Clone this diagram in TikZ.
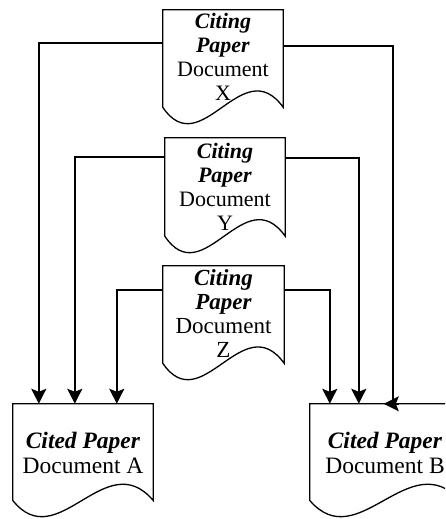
\documentclass[tikz,border=0pt]{standalone}
\usepackage{fontspec}
\setmainfont{Liberation Serif}
\usetikzlibrary{calc,arrows.meta}

% outline of a "document" box: straight top and sides, wavy bottom
\newcommand\docoutline[1]{%
  \draw[docline] let \p1=(#1.north west), \p2=(#1.south east) in
    (\p1) -- (\x2,\y1) -- (\x2,{\y1+0.86*(\y2-\y1)})
    .. controls ({\x1+0.66*(\x2-\x1)},{\y1+0.36*(\y2-\y1)})
            and ({\x1+0.32*(\x2-\x1)},{\y1+1.36*(\y2-\y1)})
    .. (\x1,{\y1+0.86*(\y2-\y1)}) -- cycle;}

\begin{document}
\begin{tikzpicture}[x=1pt,y=-1pt,
  docbox/.style={rectangle,draw=none,inner sep=0pt},
  docline/.style={line width=1.3pt,line join=miter},
  doctext/.style={anchor=north,align=center,inner sep=0pt},
  citing/.style={doctext,font=\fontsize{22}{24}\selectfont},
  cited/.style={doctext,font=\fontsize{23.5}{25}\selectfont},
  wire/.style={line width=1.5pt},
  conn/.style={wire,-{Stealth[length=15pt,width=15pt,inset=3pt]}}]

\fill[white] (0,0) rectangle (445,519);
\clip (0,0) rectangle (445,519);

% citing papers
\node[docbox,minimum width=120pt,minimum height=113pt] (X) at (223,66.5) {};
\node[docbox,minimum width=120pt,minimum height=114pt] (Y) at (225,195) {};
\node[docbox,minimum width=121pt,minimum height=113pt] (Z) at (223.5,322.5) {};
% cited papers
\node[docbox,minimum width=140pt,minimum height=112pt] (A) at (83,460) {};
\node[docbox,minimum width=150pt,minimum height=112pt] (B) at (385,460) {};

\docoutline{X}
\docoutline{Y}
\docoutline{Z}
\docoutline{A}
\docoutline{B}

\node[citing] (Xt) at ([yshift=-3pt]X.north) {\textbf{\textit{Citing}}\\\textbf{\textit{Paper}}\\Document\\X};
\node[citing] (Yt) at ([yshift=-5pt]Y.north) {\textbf{\textit{Citing}}\\\textbf{\textit{Paper}}\\Document\\Y};
\node[citing,font=\fontsize{23}{24}\selectfont] (Zt) at ([yshift=-3.5pt]Z.north) {\textbf{\textit{Citing}}\\\textbf{\textit{Paper}}\\Document\\Z};
\node[cited] (At) at ([yshift=-28pt]A.north) {\textbf{\textit{Cited Paper}}\\Document A};
\node[cited] (Bt) at ([yshift=-28pt]B.north) {\textbf{\textit{Cited Paper}}\\Document B};

% citations to Document A
\draw[conn] ([yshift=-33pt]X.north west) -| ([xshift=26pt]A.north west);
\draw[conn] ([yshift=-19pt]Y.north west) -| ([xshift=62pt]A.north west);
\draw[conn] ([yshift=-24pt]Z.north west) -| ([xshift=104pt]A.north west);

% citations to Document B
\draw[conn] ([yshift=-24pt]Z.north east) -| ([xshift=20pt]B.north west);
\draw[conn] ([yshift=-20pt]Y.north east) -| ([xshift=49pt]B.north west);
\coordinate (bturn) at ([xshift=83pt]B.north west);
\draw[wire] ([yshift=-36pt]X.north east) -| (bturn);
\draw[conn] ([xshift=6pt]bturn) -- ([xshift=-9pt]bturn);
\end{tikzpicture}
\end{document}
